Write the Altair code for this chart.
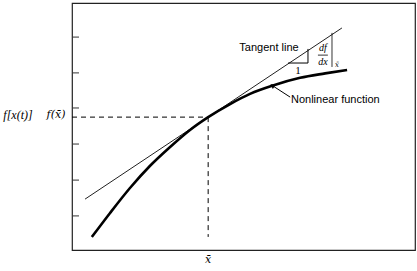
import altair as alt
import pandas as pd

# Nonlinear function, data units 0..10
curve_x = [0.58, 1.11, 1.69, 2.27, 2.86, 3.44, 3.97, 4.61, 5.19, 5.86, 6.65, 7.38, 8.02]
curve_y = [0.53, 1.50, 2.51, 3.40, 4.17, 4.86, 5.38, 5.91, 6.32, 6.66, 6.97, 7.15, 7.29]

# Tangent line end points
tan_x = [0.38, 7.87]
tan_y = [2.06, 8.99]

# Operating point
xbar = 3.97
fxbar = 5.38

# Left axis inner ticks
yticks = [8.62, 7.17, 5.75, 4.29, 2.83, 1.38]

# Slope triangle
tri_x = [6.30, 6.88, 6.88]
tri_y = [7.57, 7.57, 8.14]

# Arrow (tail -> head)
arrow_x = [6.36, 5.86]
arrow_y = [6.19, 6.64]

W, H = 343, 247
xs = alt.Scale(domain=[0, 10], nice=False, zero=False)
ys = alt.Scale(domain=[0, 10], nice=False, zero=False)
X = lambda f: alt.X(f, type="quantitative", scale=xs, axis=None)
Y = lambda f: alt.Y(f, type="quantitative", scale=ys, axis=None)

curve_df = pd.DataFrame({"x": curve_x, "y": curve_y})
tan_df = pd.DataFrame({"x": tan_x, "y": tan_y})
tick_df = pd.DataFrame({"y": yticks})
tri_df = pd.DataFrame({"x": tri_x, "y": tri_y, "o": [0, 1, 2]})
arrow_df = pd.DataFrame({"x": arrow_x, "y": arrow_y})
pt_df = pd.DataFrame({"x": [xbar], "y": [fxbar], "x0": [0.0], "y0": [0.53]})

curve = alt.Chart(curve_df).mark_line(color="black", strokeWidth=2.6, interpolate="monotone").encode(x=X("x"), y=Y("y"))
tangent = alt.Chart(tan_df).mark_line(color="#222", strokeWidth=1).encode(x=X("x"), y=Y("y"))
ticks = alt.Chart(tick_df).mark_rule(color="#333", strokeWidth=1).encode(
    x=alt.value(0), x2=alt.value(7), y=Y("y"))
hdash = alt.Chart(pt_df).mark_rule(color="black", strokeWidth=1, strokeDash=[5, 4]).encode(
    x=X("x0"), x2=alt.X2("x"), y=Y("y"))
vdash = alt.Chart(pt_df).mark_rule(color="black", strokeWidth=1, strokeDash=[5, 4]).encode(
    x=X("x"), y=Y("y"), y2=alt.Y2("y0"))
tri = alt.Chart(tri_df).mark_line(color="black", strokeWidth=1).encode(
    x=X("x"), y=Y("y"), order="o:Q")
arrow = alt.Chart(arrow_df).mark_line(color="black", strokeWidth=1).encode(x=X("x"), y=Y("y"))
head = alt.Chart(pd.DataFrame({"x": [arrow_x[1]], "y": [arrow_y[1]]})).mark_point(
    shape="triangle", filled=True, color="black", size=28, angle=303, opacity=1).encode(x=X("x"), y=Y("y"))

fracbar = alt.Chart(pd.DataFrame({"x": [7.17], "x2": [7.46], "y": [7.89]})).mark_rule(
    color="black", strokeWidth=0.8).encode(x=X("x"), x2=alt.X2("x2"), y=Y("y"))
evalbar = alt.Chart(pd.DataFrame({"x": [7.58], "y": [8.79], "y2": [7.41]})).mark_rule(
    color="black", strokeWidth=0.8).encode(x=X("x"), y=Y("y"), y2=alt.Y2("y2"))

def txt(text, x, y, size=11, font="Liberation Sans", style="normal", align="left", baseline="middle"):
    return alt.Chart(pd.DataFrame({"t": [text]})).mark_text(
        font=font, fontSize=size, fontStyle=style, align=align, baseline=baseline, color="black"
    ).encode(x=alt.value(x), y=alt.value(y), text="t:N")

serif = "Liberation Serif"
bar_serif = "DejaVu Serif"
labels = [
    txt("f[x(t)]", -54, 112, size=12, font=serif, style="italic", align="center"),
    txt("f(x\u0304)", -16, 112, size=11, font=bar_serif, style="italic", align="center"),
    txt("x\u0304", 136, 257, size=11, font=bar_serif, style="italic", align="center"),
    txt("Tangent line", 197, 45, size=11, align="center"),
    txt("Nonlinear function", 219, 97, size=11, align="left"),
    txt("df", 251, 45, size=10, font=serif, style="italic", align="center"),
    txt("dx", 251, 59, size=10, font=serif, style="italic", align="center"),
    txt("1", 226, 68, size=11, font=serif, align="center"),
    txt("x\u0304", 265, 62, size=7, font=bar_serif, style="italic", align="center"),
]

chart = alt.layer(
    ticks, hdash, vdash, tangent, curve, tri, arrow, head, fracbar, evalbar, *labels
).properties(
    width=W, height=H,
    background="white",
    autosize=alt.AutoSizeParams(type="none"),
    padding={"left": 72, "top": 3, "right": 2, "bottom": 21},
).configure_view(stroke="#222", strokeWidth=1.2)

chart.save("out.html", embed_options={"renderer": "svg", "actions": False})
